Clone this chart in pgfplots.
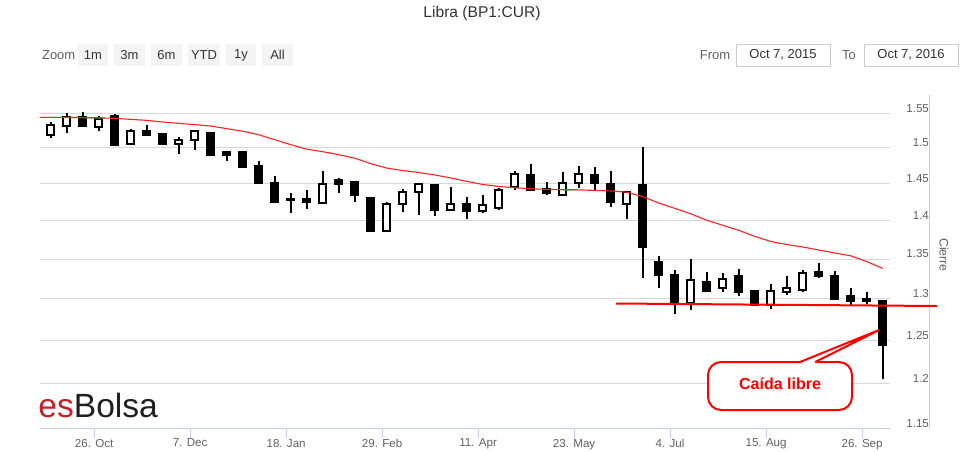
\documentclass[border=0pt]{standalone}
\usepackage{fontspec}
\setmainfont{Liberation Sans}
\usepackage{pgfplots}
\usepackage{pgfplotstable}
\pgfplotsset{compat=1.18}
\definecolor{gridc}{HTML}{D8D8D8}
\definecolor{axisc}{HTML}{C0D0E0}
\definecolor{lab}{HTML}{606060}
\definecolor{btn}{HTML}{F4F4F4}
\definecolor{titlec}{HTML}{333333}
\definecolor{boxc}{HTML}{CCCCCC}
\definecolor{logored}{HTML}{C8202A}
\definecolor{mared}{HTML}{FF2020}
\definecolor{greenc}{HTML}{2E8B2E}

% weekly candles: k = week index (x = 7k days after 7 Oct 2015)
\pgfplotstableread{
k O H L C
0 1.518 1.537 1.514 1.533
1 1.532 1.550 1.521 1.544
2 1.544 1.552 1.531 1.531
3 1.530 1.546 1.525 1.542
4 1.546 1.549 1.503 1.504
5 1.506 1.528 1.505 1.524
6 1.525 1.533 1.517 1.518
7 1.520 1.521 1.504 1.506
8 1.505 1.516 1.491 1.512
9 1.512 1.525 1.497 1.524
10 1.521 1.522 1.488 1.490
11 1.494 1.495 1.482 1.490
12 1.494 1.495 1.472 1.473
13 1.475 1.481 1.451 1.451
14 1.451 1.460 1.425 1.425
15 1.429 1.437 1.410 1.428
16 1.429 1.441 1.416 1.425
17 1.424 1.468 1.423 1.450
18 1.455 1.458 1.437 1.449
19 1.452 1.453 1.425 1.435
20 1.430 1.431 1.385 1.386
21 1.387 1.425 1.385 1.423
22 1.422 1.443 1.412 1.438
23 1.439 1.451 1.408 1.449
24 1.448 1.449 1.407 1.414
25 1.414 1.446 1.413 1.423
26 1.423 1.432 1.402 1.413
27 1.413 1.435 1.410 1.421
28 1.417 1.444 1.414 1.441
29 1.446 1.468 1.442 1.463
30 1.462 1.478 1.441 1.442
31 1.443 1.452 1.435 1.437
32 1.435 1.466 1.434 1.451
33 1.451 1.475 1.444 1.464
34 1.462 1.473 1.440 1.451
35 1.450 1.468 1.419 1.425
36 1.423 1.439 1.402 1.438
37 1.448 1.502 1.326 1.366
38 1.346 1.354 1.314 1.330
39 1.330 1.336 1.282 1.295
40 1.295 1.350 1.287 1.323
41 1.321 1.333 1.308 1.310
42 1.313 1.332 1.308 1.325
43 1.329 1.338 1.304 1.308
44 1.310 1.311 1.293 1.293
45 1.293 1.318 1.288 1.310
46 1.308 1.328 1.305 1.314
47 1.311 1.336 1.308 1.332
48 1.333 1.345 1.326 1.329
49 1.329 1.335 1.300 1.300
50 1.304 1.314 1.293 1.297
51 1.300 1.308 1.294 1.298
52 1.298 1.299 1.205 1.245
}\candles

% moving average (red line), x in days
\pgfplotstableread{
d v
-4.68 1.5441
0 1.5441
7 1.5441
14 1.5438
21 1.5434
28 1.5427
35 1.5412
42 1.5398
49 1.5373
56 1.5354
63 1.5337
70 1.5315
77 1.5277
84 1.5240
91 1.5189
98 1.5118
105 1.5047
112 1.4983
119 1.4947
126 1.4905
133 1.4855
140 1.4780
147 1.4717
154 1.4683
161 1.4655
168 1.4621
175 1.4580
182 1.4532
189 1.4490
196 1.4463
203 1.4445
210 1.4431
217 1.4422
224 1.4418
231 1.4415
238 1.4408
245 1.4401
252 1.4384
259 1.4325
266 1.4238
273 1.4166
280 1.4093
287 1.4007
294 1.3940
301 1.3874
308 1.3794
315 1.3728
322 1.3688
329 1.3656
336 1.3617
343 1.3578
350 1.3542
357 1.3469
364 1.3382
}\ma

\begin{document}
\begin{tikzpicture}
\useasboundingbox (0,0) rectangle (482pt,-225.5pt);
\begin{axis}[
  at={(20pt,-214.15pt)}, anchor=south west,
  scale only axis, width=425pt, height=166.65pt,
  ymode=log, ymin=1.15, ymax=1.5772,
  xmin=-4.68, xmax=367.2,
  axis x line*=bottom, axis y line*=right,
  x axis line style={draw=axisc, line width=0.5pt, -},
  y axis line style={draw=none},
  xtick={19,61,103,145,187,229,271,313,355},
  xticklabels={26. Oct,7. Dec,18. Jan,29. Feb,11. Apr,23. May,4. Jul,15. Aug,26. Sep},
  xtick style={draw=axisc, line width=0.5pt},
  tick align=outside, major tick length=5pt,
  xticklabel style={font=\fontsize{5.8}{7}\selectfont, text=lab, yshift=3.2pt},
  ytick={1.15,1.2,1.25,1.3,1.35,1.4,1.45,1.5,1.55},
  yticklabels={1.15,1.2,1.25,1.3,1.35,1.4,1.45,1.5,1.55},
  yticklabel pos=right,
  ytick style={draw=none}, minor y tick num=0,
  minor y tick style={draw=none},
  yticklabel style={anchor=east, xshift=18pt, yshift=2.6pt, font=\fontsize{5.8}{7}\selectfont, text=lab},
  ymajorgrids, grid style={draw=gridc, line width=0.5pt},
  /pgf/number format/assume math mode=true,
]
\pgfplotsinvokeforeach{0,...,52}{
  \pgfplotstablegetelem{#1}{O}\of\candles \let\vO\pgfplotsretval
  \pgfplotstablegetelem{#1}{H}\of\candles \let\vH\pgfplotsretval
  \pgfplotstablegetelem{#1}{L}\of\candles \let\vL\pgfplotsretval
  \pgfplotstablegetelem{#1}{C}\of\candles \let\vC\pgfplotsretval
  \pgfmathsetmacro\xc{7*#1}
  \pgfmathsetmacro\xl{7*#1-1.6}
  \pgfmathsetmacro\xr{7*#1+1.6}
  \pgfmathparse{\vC>\vO ? 1 : 0}
  \ifdim\pgfmathresult pt>0.5pt \def\fc{white}\else\def\fc{black}\fi
  \edef\cmd{\noexpand\addplot[black, line width=1pt, forget plot] coordinates {(\xc,\vL) (\xc,\vH)};
    \noexpand\addplot[draw=black, fill=\fc, line width=1pt, forget plot] coordinates {(\xl,\vO) (\xr,\vO) (\xr,\vC) (\xl,\vC)} -- cycle;}
  \cmd
}
\addplot[mared, line width=0.55pt, no marks] table[x=d, y=v]{\ma};
\addplot[greenc, line width=0.55pt, no marks] coordinates {(-0.3,1.5441) (7,1.5441) (14,1.5438) (23.8,1.5434)};
\addplot[greenc, line width=0.55pt, no marks] coordinates {(222.8,1.4419) (230.7,1.4415)};
\end{axis}

\begin{scope}[x=0.5pt,y=-0.5pt]
  % title
  \node[font=\fontsize{7.8}{9}\selectfont, text=titlec] at (482,13) {Libra (BP1:CUR)};
  % range selector
  \node[anchor=west, font=\fontsize{6.5}{8}\selectfont, text=lab] at (35,55) {Zoom};
  \foreach \a/\b/\t in {78/108/1m, 114/145/3m, 151/182/6m, 188/220/YTD, 226/256/1y, 262/293/All}{
    \fill[btn] (\a,44) rectangle (\b,66);
    \node[font=\fontsize{6.5}{8}\selectfont, text=titlec] at ({(\a+\b)/2},55) {\t};
  }
  \node[font=\fontsize{6.5}{8}\selectfont, text=lab] at (715,55) {From};
  \draw[boxc, line width=0.5pt, fill=white] (736,44) rectangle (830,66);
  \node[font=\fontsize{6.5}{8}\selectfont, text=titlec] at (783,55) {Oct 7, 2015};
  \node[font=\fontsize{6.5}{8}\selectfont, text=lab] at (849,55) {To};
  \draw[boxc, line width=0.5pt, fill=white] (864,44) rectangle (958,66);
  \node[font=\fontsize{6.5}{8}\selectfont, text=titlec] at (911,55) {Oct 7, 2016};
  % right axis line and title
  \draw[axisc, line width=0.5pt] (929,95) -- (929,428.3);
  \node[rotate=-90, font=\fontsize{6.2}{8}\selectfont, text=lab] at (944,255) {Cierre};
  % logo
  \node[anchor=base west, inner sep=0pt, font=\fontsize{16.8}{18}\selectfont] at (38,417)
    {\textcolor{logored}{es}\textcolor{black!88}{Bolsa}};
  % support line
  \draw[red, line width=1pt] (616,303.5) -- (937,306);
  % callout
  \draw[red, line width=1pt, fill=white, rounded corners=6.5pt] (708,362) rectangle (852,410);
  \fill[white] (800,363) -- (879,330) -- (815,363) -- cycle;
  \fill[white] (801,360.5) rectangle (814,364.5);
  \draw[red, line width=1pt, line join=miter] (800,362) -- (879,330) -- (815,362);
  \node[font=\bfseries\fontsize{8}{10}\selectfont, text=red] at (780,384) {Caída libre};
\end{scope}
\end{tikzpicture}
\end{document}
